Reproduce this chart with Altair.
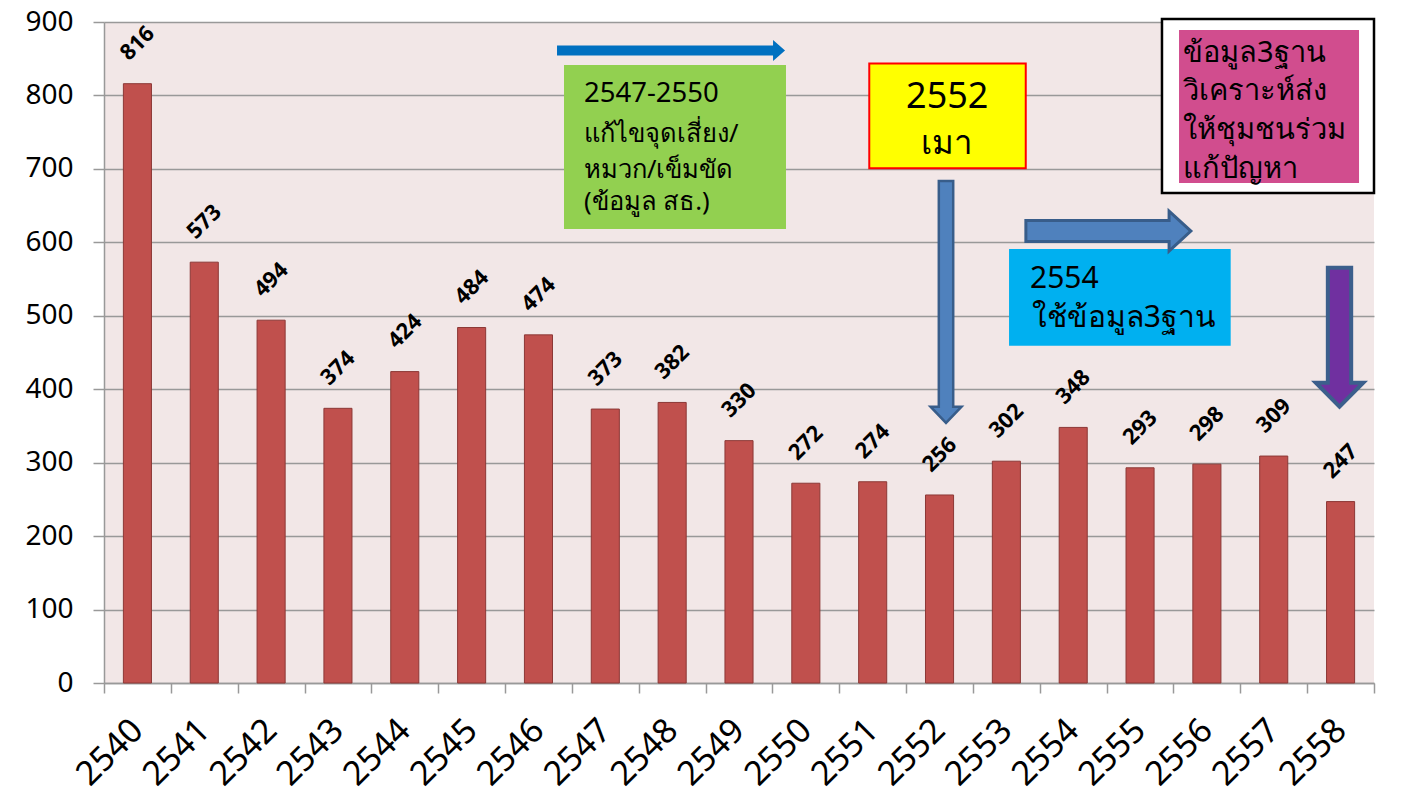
import altair as alt
import pandas as pd

# ---- chart values ----
years = [str(y) for y in range(2540, 2559)]
deaths = [816, 573, 494, 374, 424, 484, 474, 373, 382, 330, 272, 274, 256, 302, 348, 293, 298, 309, 247]

# annotation texts
green_lines = ["2547-2550", "แก้ไขจุดเสี่ยง/", "หมวก/เข็มขัด", "(ข้อมูล สธ.)"]
yellow_lines = ["2552", "เมา"]
cyan_lines = ["2554", "ใช้ข้อมูล3ฐาน"]
pink_lines = ["ข้อมูล3ฐาน", "วิเคราะห์ส่ง", "ให้ชุมชนร่วม", "แก้ปัญหา"]

FONT = "Noto Sans"
W, H = 1270, 661

df = pd.DataFrame({"year": years, "v": deaths})

yaxis = alt.Axis(title=None, values=list(range(0, 901, 100)), labelFontSize=28, labelFont=FONT,
                 labelColor="black", labelPadding=20, tickSize=11, tickColor="#999999", tickWidth=1.5,
                 gridColor="#999999", gridWidth=1.5, domainColor="#999999", domainWidth=1.5)
yscale = alt.Scale(domain=[0, 900], nice=False)

xband = alt.X(
    "year:N", sort=years,
    scale=alt.Scale(paddingInner=0, paddingOuter=0),
    axis=alt.Axis(title=None, labelAngle=-45, labelAlign="right", labelBaseline="middle",
                  labelFontSize=34, labelFont=FONT, labelColor="black", labelPadding=32,
                  tickBand="extent", tickSize=10, tickColor="#999999", tickWidth=1.5,
                  domainColor="#999999", domainWidth=1.5, grid=False, labelOverlap=False),
)

bars = alt.Chart(df).mark_bar(color="#C0504D", stroke="#8C3836", strokeWidth=1,
                              width=alt.RelativeBandSize(0.42)).encode(
    x=xband, y=alt.Y("v:Q", scale=yscale, axis=yaxis))
labels = (
    alt.Chart(df)
    .transform_calculate(ly="datum.v + 55")
    .mark_text(angle=315, fontWeight="bold", fontSize=22, font=FONT, color="black",
               align="center", baseline="middle")
    .encode(x=alt.X("year:N", sort=years), y=alt.Y("ly:Q", scale=yscale, axis=yaxis), text="v:Q")
)
main = alt.layer(bars, labels)

# ---- annotations, positioned in (category-units, value) coordinates ----
def xq(f):
    return alt.X(f"{f}:Q", scale=alt.Scale(domain=[0, 19], nice=False, zero=False), axis=None)

def yq(f):
    return alt.Y(f"{f}:Q", scale=yscale, axis=yaxis)

boxes = pd.DataFrame({
    "x": [6.882, 11.449, 13.540, 15.828, 16.083],
    "x2": [10.203, 13.790, 16.856, 19.0, 18.776],
    "y": [841.5, 843.6, 590.9, 904.1, 889.1],
    "y2": [618.2, 700.8, 459.3, 667.2, 680.8],
    "fill": ["#92D050", "#FFFF00", "#00B0F0", "#FFFFFF", "#D14D8E"],
    "stroke": ["#92D050", "#FF0000", "#00B0F0", "#000000", "#D14D8E"],
    "sw": [0, 2, 0, 2.5, 0],
})
box_layer = alt.Chart(boxes).mark_rect().encode(
    x=xq("x"), x2="x2:Q", y=yq("y"), y2="y2:Q",
    fill=alt.Fill("fill:N", scale=None), stroke=alt.Stroke("stroke:N", scale=None),
    strokeWidth=alt.StrokeWidth("sw:Q", scale=None),
)

left_txt = pd.DataFrame({
    "x": [7.181] * 4 + [13.854, 13.88] + [16.143] * 4,
    "y": [802.0, 747.5, 698.5, 654.9, 550.1, 497.0, 857.8, 806.1, 753.0, 699.9],
    "t": green_lines + cyan_lines + pink_lines,
    "s": [27.5, 25.5, 25.5, 25.5, 30, 30, 29, 29, 29, 29],
})
left_layer = alt.Chart(left_txt).mark_text(align="left", baseline="middle", font=FONT, color="black").encode(
    x=xq("x"), y=yq("y"), text="t:N", size=alt.Size("s:Q", scale=None)
)
center_txt = pd.DataFrame({"x": [12.616, 12.616], "y": [797.9, 734.0], "t": yellow_lines, "s": [36, 33]})
center_layer = alt.Chart(center_txt).mark_text(align="center", baseline="middle", font=FONT, color="black").encode(
    x=xq("x"), y=yq("y"), text="t:N", size=alt.Size("s:Q", scale=None)
)

def arrow(xc, yc, path, size, fill, stroke, sw):
    d = pd.DataFrame({"x": [xc], "y": [yc]})
    return alt.Chart(d).mark_point(shape=path, size=size, filled=True, fill=fill, stroke=stroke,
                                   strokeWidth=sw, opacity=1, fillOpacity=1).encode(x=xq("x"), y=yq("y"))

p_right_flat = "M-1,-0.044L0.895,-0.044L0.895,-0.092L1,0L0.895,0.092L0.895,0.044L-1,0.044Z"
p_down_2552 = "M-0.0595,-1L0.0595,-1L0.0595,0.865L0.128,0.865L0,1L-0.128,0.865L-0.0595,0.865Z"
p_right_2554 = "M-1,-0.127L0.736,-0.127L0.736,-0.242L1,0L0.736,0.242L0.736,0.127L-1,0.127Z"
p_down_pur = "M-0.168,-1L0.168,-1L0.168,0.655L0.341,0.655L0,1L-0.341,0.655L-0.168,0.655Z"

a1 = arrow(8.483, 861.2, p_right_flat, 228 ** 2, "#0070C0", "#0070C0", 0)
a2 = arrow(12.597, 518.8, p_down_2552, 242 ** 2, "#4F81BD", "#385D8A", 2.5)
a3 = arrow(15.026, 615.4, p_right_2554, 165 ** 2, "#4F81BD", "#385D8A", 3)
a4 = arrow(18.484, 470.8, p_down_pur, 139 ** 2, "#7030A0", "#3C5F8C", 4)

annots = alt.layer(box_layer, a1, a2, a3, a4, left_layer, center_layer)

chart = (
    alt.layer(main, annots)
    .resolve_scale(x="independent")
    .properties(width=W, height=H, autosize=alt.AutoSizeParams(type="none"),
                padding={"left": 96, "top": 14, "right": 20, "bottom": 114}, background="white")
    .configure_view(stroke=None, fill="#F2E7E7")
)

chart.save("out.html", embed_options={"renderer": "svg", "actions": False})
